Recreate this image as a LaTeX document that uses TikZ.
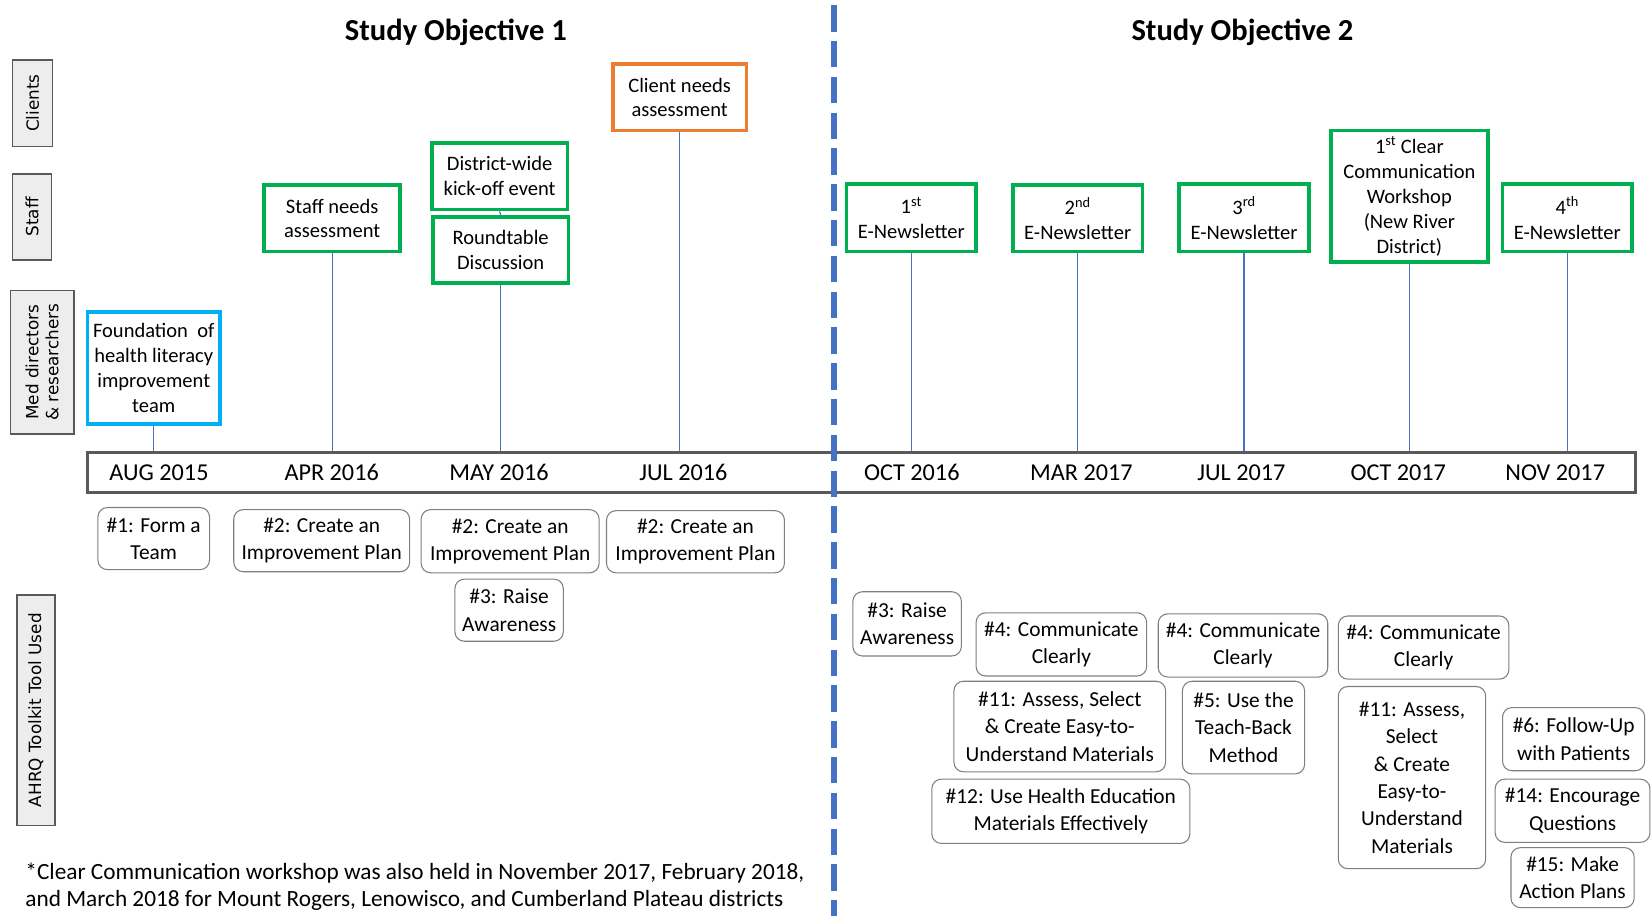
\documentclass[tikz,border=0pt]{standalone}
\usepackage{fontspec}
\setmainfont{Carlito}
\newfontfamily\lanefamily{DejaVu Sans}
\definecolor{evgreen}{HTML}{00B050}
\definecolor{evcyan}{HTML}{00B0F0}
\definecolor{evorange}{HTML}{ED7D31}
\definecolor{lineblue}{HTML}{4472C4}
\definecolor{tlgray}{HTML}{595959}
\definecolor{toolgray}{HTML}{7F7F7F}
\definecolor{lanefill}{HTML}{EDEDED}
\newcommand\evfnt{\fontsize{19.5}{23.6}\selectfont}
\newcommand\toolfnt{\fontsize{20.3}{26}\selectfont}
\newcommand\tlfnt{\fontsize{23}{27}\selectfont}
\newcommand\titlefnt{\fontsize{29}{34}\selectfont\bfseries}
\newcommand\lanefnt{\lanefamily\fontsize{16}{19}\selectfont}
\tikzset{
  evbox/.style={draw=evgreen, line width=3.5pt, fill=white, align=center, inner sep=0pt, font=\evfnt},
  toolbox/.style={draw=toolgray, line width=1pt, rounded corners=9pt, fill=white, align=center, inner sep=0pt, font=\toolfnt},
  lanebox/.style={draw=tlgray, line width=1.6pt, fill=lanefill, rotate=90, align=center, inner sep=0pt, font=\lanefnt},
  conn/.style={draw=lineblue, line width=1.1pt},
  tllabel/.style={font=\tlfnt, inner sep=0pt}
}
\begin{document}
\begin{tikzpicture}[x=1pt,y=-1pt]
\useasboundingbox (0,0) rectangle (1568,870);
\fill[white] (0,0) rectangle (1568,870);

% titles
\node[font=\titlefnt] (title1) at (433,31) {Study Objective 1};
\node[font=\titlefnt] (title2) at (1180,31) {Study Objective 2};

% lane labels
\node[lanebox, minimum width=82pt, minimum height=38pt] (laneC) at (31,98) {Clients};
\node[lanebox, minimum width=82pt, minimum height=37pt] (laneS) at (30.5,206) {Staff};
\node[lanebox, minimum width=136pt, minimum height=60pt] (laneM) at (40,344) {Med directors\\\& researchers};
\node[lanebox, minimum width=219pt, minimum height=36pt] (laneA) at (34,674.5) {AHRQ Toolkit Tool Used};

% timeline
\node[draw=tlgray, line width=3pt, minimum width=1470pt, minimum height=38pt, inner sep=0pt] (tl) at (818,449) {};
\node[tllabel] (d1) at (151,449) {AUG 2015};
\node[tllabel] (d2) at (315,449) {APR 2016};
\node[tllabel] (d3) at (474,449) {MAY 2016};
\node[tllabel] (d4) at (649,449) {JUL 2016};
\node[tllabel] (d5) at (866,449) {OCT 2016};
\node[tllabel] (d6) at (1027,449) {MAR 2017};
\node[tllabel] (d7) at (1179,449) {JUL 2017};
\node[tllabel] (d8) at (1328,449) {OCT 2017};
\node[tllabel] (d9) at (1477,449) {NOV 2017};

% event boxes
\node[evbox, draw=evcyan, minimum width=126pt, minimum height=107pt] (found) at (146,349.5) {Foundation~ of\\health literacy\\improvement\\team};
\node[evbox, minimum width=129pt, minimum height=63pt] (staffn) at (315.5,207.5) {Staff needs\\assessment};
\node[evbox, minimum width=129pt, minimum height=63pt] (district) at (474.5,167.5) {District-wide\\kick-off event};
\node[evbox, minimum width=129pt, minimum height=63pt] (round) at (475.5,237.5) {Roundtable\\Discussion};
\node[evbox, draw=evorange, minimum width=127pt, minimum height=63pt] (client) at (645.5,92.5) {Client needs\\assessment};
\node[evbox, minimum width=123pt, minimum height=64pt] (news1) at (865.5,207) {1\textsuperscript{st}\\E-Newsletter};
\node[evbox, minimum width=123pt, minimum height=63pt] (news2) at (1023.5,207.5) {2\textsuperscript{nd}\\E-Newsletter};
\node[evbox, minimum width=123pt, minimum height=64pt] (news3) at (1181.5,207) {3\textsuperscript{rd}\\E-Newsletter};
\node[evbox, minimum width=149pt, minimum height=125pt] (work) at (1338.5,186.5) {1\textsuperscript{st} Clear\\Communication\\Workshop\\(New River\\District)};
\node[evbox, minimum width=123pt, minimum height=64pt] (news4) at (1488.5,207) {4\textsuperscript{th}\\E-Newsletter};

% connectors
\foreach \b in {found,staffn,round,client,news1,news2,news3,work,news4}
  \draw[conn] (\b.south) -- (\b.south |- tl.north);
\draw[conn] (district.south) -- (round.north);

% tool boxes
\node[toolbox, minimum width=106pt, minimum height=59pt] (t1) at (146,511.5) {\#1: Form a\\Team};
\node[toolbox, minimum width=167pt, minimum height=59pt] (t2a) at (305.5,513.5) {\#2: Create an\\Improvement Plan};
\node[toolbox, minimum width=169pt, minimum height=60pt] (t2b) at (484.5,514) {\#2: Create an\\Improvement Plan};
\node[toolbox, minimum width=169pt, minimum height=59pt] (t2c) at (660.5,514.5) {\#2: Create an\\Improvement Plan};
\node[toolbox, minimum width=103pt, minimum height=59pt] (t3a) at (483.5,579.5) {\#3: Raise\\Awareness};
\node[toolbox, minimum width=103pt, minimum height=61pt] (t3b) at (861.5,592.5) {\#3: Raise\\Awareness};
\node[toolbox, minimum width=162pt, minimum height=60pt] (t4a) at (1008,612) {\#4: Communicate\\Clearly};
\node[toolbox, minimum width=161pt, minimum height=60pt] (t4b) at (1180.5,613) {\#4: Communicate\\Clearly};
\node[toolbox, minimum width=162pt, minimum height=60pt] (t4c) at (1352,615) {\#4: Communicate\\Clearly};
\node[toolbox, minimum width=201pt, minimum height=86pt] (t11a) at (1006.5,690) {\#11: Assess, Select\\\& Create Easy-to-\\Understand Materials};
\node[toolbox, minimum width=116pt, minimum height=88pt] (t5) at (1181,691) {\#5: Use the\\Teach-Back\\Method};
\node[toolbox, minimum width=245pt, minimum height=61pt] (t12) at (1007.5,770.5) {\#12: Use Health Education\\Materials Effectively};
\node[toolbox, minimum width=140pt, minimum height=173pt] (t11b) at (1341,738.5) {\#11: Assess,\\Select\\\& Create\\Easy-to-\\Understand\\Materials};
\node[toolbox, minimum width=135pt, minimum height=60pt] (t6) at (1494.5,702) {\#6: Follow-Up\\with Patients};
\node[toolbox, minimum width=147pt, minimum height=60pt] (t14) at (1493.5,770) {\#14: Encourage\\Questions};
\node[toolbox, minimum width=117pt, minimum height=57pt] (t15) at (1493.5,833.5) {\#15: Make\\Action Plans};

% footnote
\node[anchor=west, align=left, inner sep=0pt, font=\fontsize{22.1}{26}\selectfont] (foot) at (24,842) {*Clear Communication workshop was also held in November 2017, February 2018,\\and March 2018 for Mount Rogers, Lenowisco, and Cumberland Plateau districts};

% divider
\coordinate (dtop) at (792,5);
\coordinate (dbot) at (792,870);
\draw[lineblue, line width=6.5pt, dash pattern=on 25pt off 9pt] (dtop) -- (dbot);
\end{tikzpicture}
\end{document}
